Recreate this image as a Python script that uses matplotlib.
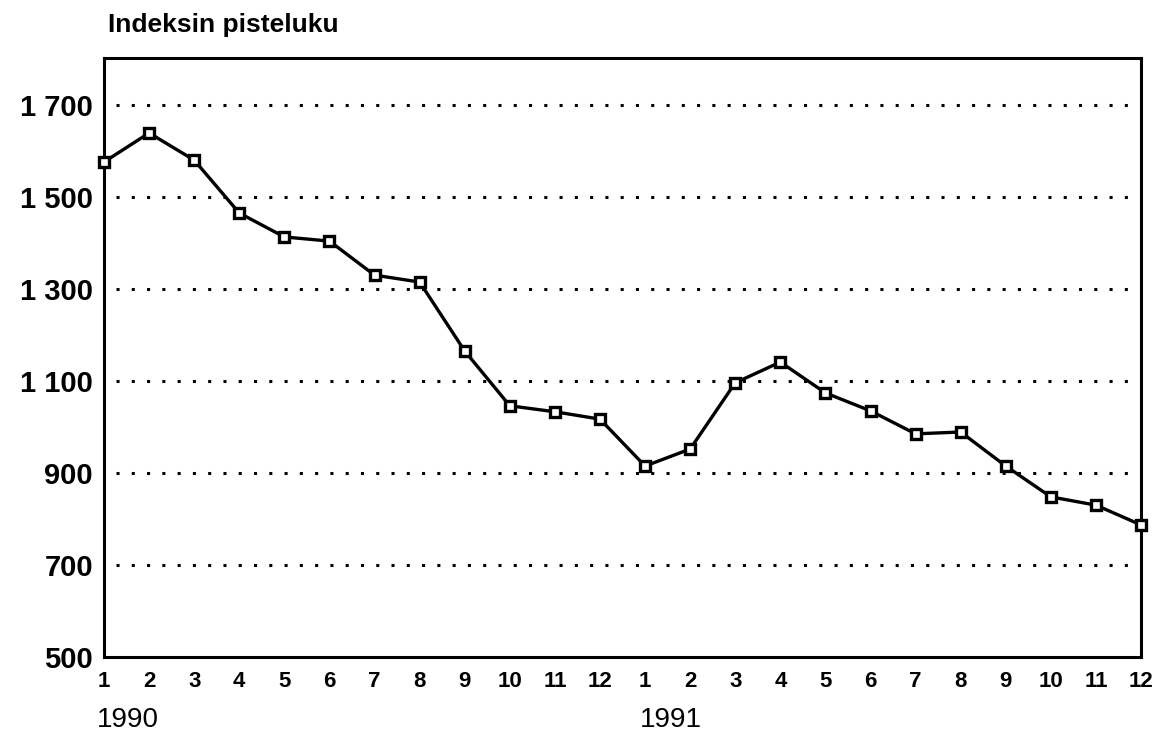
import numpy as np
import matplotlib.pyplot as plt

plt.rcParams['font.family'] = ['Liberation Sans', 'DejaVu Sans']

# monthly index points, Jan 1990 .. Dec 1991
months = list(range(1, 13)) * 2
years = ['1990', '1991']
index_1990 = [1576, 1639, 1580, 1465, 1413, 1404, 1330, 1315, 1165, 1046, 1033, 1017]
index_1991 = [915, 952, 1096, 1141, 1074, 1035, 985, 989, 915, 848, 830, 787]
values = index_1990 + index_1991
yticks = [500, 700, 900, 1100, 1300, 1500, 1700]
ytick_labels = ['500', '700', '900', '1 100', '1 300', '1 500', '1 700']

x = np.arange(1, len(values) + 1)

fig = plt.figure(figsize=(11.61, 7.38), dpi=100)
ax = fig.add_axes([0.0896, 0.1098, 0.8932, 0.8116])

# dotted gridlines (not at the bottom value)
for yv in yticks[1:]:
    ax.axhline(yv, xmin=0.012, color='black', linestyle=(0, (1, 4)), linewidth=2.2, zorder=1)

ax.plot(x, values, color='black', linewidth=2.4, marker='s', markersize=6.5,
        markerfacecolor='white', markeredgecolor='black', markeredgewidth=2.4, zorder=3,
        clip_on=False)

ax.set_xlim(1, 24)
ax.set_ylim(500, 1802)
ax.set_xticks(x)
ax.set_xticklabels([str(m) for m in months], fontsize=16, fontweight='bold')
ax.set_yticks(yticks)
ax.set_yticklabels(ytick_labels, fontsize=21, fontweight='bold')
ax.tick_params(length=0)
ax.tick_params(axis='x', pad=10)
ax.tick_params(axis='y', pad=8)

for s in ax.spines.values():
    s.set_linewidth(2.2)

fig.text(0.093, 1 - 32 / 738, 'Indeksin pisteluku', fontsize=19, fontweight='bold',
         ha='left', va='baseline')
fig.text(0.0835, 1 - 720 / 738, years[0], fontsize=20, ha='left', va='center')
fig.text(0.551, 1 - 720 / 738, years[1], fontsize=20, ha='left', va='center')

fig.savefig('out.png', dpi=100)
